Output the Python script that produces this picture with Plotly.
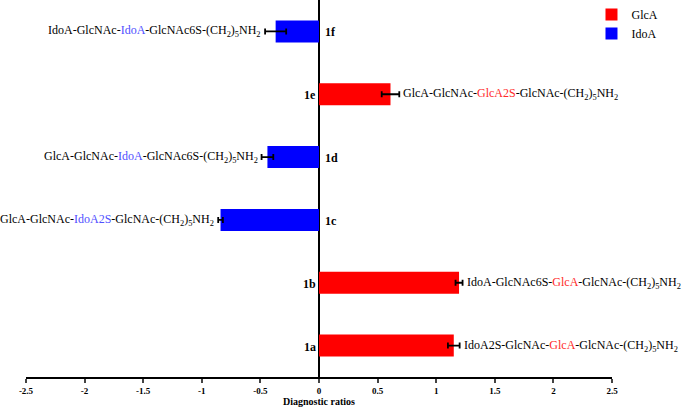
import plotly.graph_objects as go

# data
compounds = ["1a", "1b", "1c", "1d", "1e", "1f"]
ratios = [1.15, 1.195, -0.84, -0.44, 0.61, -0.37]
errors = [0.05, 0.03, 0.02, 0.05, 0.075, 0.09]
uronic = ["GlcA", "GlcA", "IdoA", "IdoA", "GlcA", "IdoA"]
seq_prefix = ["IdoA2S-GlcNAc-", "IdoA-GlcNAc6S-", "GlcA-GlcNAc-", "GlcA-GlcNAc-", "GlcA-GlcNAc-", "IdoA-GlcNAc-"]
seq_mid = ["GlcA", "GlcA", "IdoA2S", "IdoA", "GlcA2S", "IdoA"]
seq_suffix = ["-GlcNAc-", "-GlcNAc-", "-GlcNAc-", "-GlcNAc6S-", "-GlcNAc-", "-GlcNAc6S-"]
linker = "(CH<sub>2</sub>)<sub>5</sub>NH<sub>2</sub>"
tick_vals = [-2.5, -2, -1.5, -1, -0.5, 0, 0.5, 1, 1.5, 2, 2.5]
tick_text = ["-2.5", "-2", "-1.5", "-1", "-0.5", "0", "0.5", "1", "1.5", "2", "2.5"]

bar_colors = {"GlcA": "#ff0000", "IdoA": "#0000ff"}
text_colors = {"GlcA": "#ff2a2a", "IdoA": "#5050ff"}
FONT = "Liberation Serif, Times New Roman, serif"

fig = go.Figure()
for kind in ["GlcA", "IdoA"]:
    idx = [i for i, u in enumerate(uronic) if u == kind]
    fig.add_trace(
        go.Bar(
            x=[ratios[i] for i in idx],
            y=idx,
            orientation="h",
            name=kind,
            marker=dict(color=bar_colors[kind], line_width=0),
            width=0.35,
            error_x=dict(type="data", array=[errors[i] for i in idx], color="black", thickness=1.8, width=3),
        )
    )

for i, comp in enumerate(compounds):
    v, e = ratios[i], errors[i]
    label = (
        f"{seq_prefix[i]}<span style='color:{text_colors[uronic[i]]}'>{seq_mid[i]}</span>"
        f"{seq_suffix[i]}{linker}"
    )
    pos = v >= 0
    fig.add_annotation(
        x=v + e if pos else v - e, y=i, text=label, showarrow=False,
        xanchor="left" if pos else "right", xshift=2 if pos else -2,
        font=dict(family=FONT, size=12, color="black"),
    )
    fig.add_annotation(
        x=0, y=i, text=f"<b>{comp}</b>", showarrow=False,
        xanchor="right" if pos else "left", xshift=-1 if pos else 4, yshift=-1,
        font=dict(family=FONT, size=12, color="black"),
    )

fig.update_xaxes(
    range=[-2.5, 2.5], tickvals=tick_vals, ticktext=[f"<b>{t}</b>" for t in tick_text],
    showgrid=False, zeroline=True, zerolinecolor="black", zerolinewidth=1.5,
    showline=True, linecolor="black", linewidth=1.5, ticks="outside", ticklen=4, tickwidth=1.5,
    tickfont=dict(family=FONT, size=9, color="black"), automargin=False,
    title=dict(text="<b>Diagnostic ratios</b>", font=dict(family=FONT, size=10, color="black"), standoff=0),
)
fig.update_yaxes(range=[-0.5, 5.5], showgrid=False, zeroline=False, showticklabels=False,
                 showline=False, automargin=False)
fig.update_layout(
    width=685, height=412, barmode="overlay",
    margin=dict(l=26, r=73, t=0, b=35),
    plot_bgcolor="white", paper_bgcolor="white",
    font=dict(family=FONT, color="black"),
    legend=dict(x=0.965, y=1.0, xanchor="left", yanchor="top", font=dict(family=FONT, size=12),
                itemwidth=30, tracegroupgap=0, bgcolor="rgba(0,0,0,0)"),
)
fig.write_html("out.html", config={"displayModeBar": False},
               post_script="document.body.style.margin='0';")
